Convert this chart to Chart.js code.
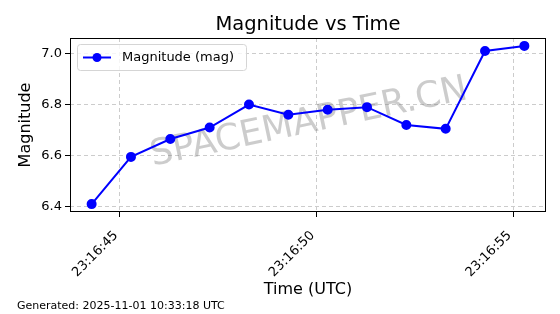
<!DOCTYPE html>
<html>
<head>
<meta charset="utf-8">
<script src="https://cdn.jsdelivr.net/npm/chart.js@4"></script>
<style>
  html, body { margin: 0; padding: 0; background: #fff; }
  #wrap { width: 560px; height: 314px; position: relative; }
</style>
</head>
<body>
<div id="wrap"><canvas id="magChart"></canvas></div>
<script>
// seconds after 23:16:00 UTC
const times = [44.28, 45.28, 46.28, 47.28, 48.28, 49.28, 50.28, 51.28, 52.28, 53.28, 54.28, 55.28];
const magnitudes = [6.41, 6.595, 6.665, 6.71, 6.80, 6.76, 6.78, 6.79, 6.72, 6.705, 7.01, 7.03];
const xTicks = [45, 50, 55];
const yTicks = [6.4, 6.6, 6.8, 7.0];

const font = "'DejaVu Sans', sans-serif";

const extras = {
    id: 'extras',
    beforeDatasetsDraw(chart) {
        // watermark sits under the line
        const c = chart.ctx;
        c.save();
        c.translate(309, 123);
        c.rotate(-12 * Math.PI / 180);
        c.font = '36px ' + font;
        c.fillStyle = 'rgba(128,128,128,0.4)';
        c.textAlign = 'center';
        c.textBaseline = 'middle';
        c.fillText('SPACEMAPPER.CN', 0, 0);
        c.restore();
    },
    afterDraw(chart) {
        const c = chart.ctx;
        const a = chart.chartArea;
        c.save();
        // frame
        c.strokeStyle = '#000';
        c.lineWidth = 1;
        c.strokeRect(a.left + 0.5, a.top + 0.5, a.right - a.left - 1, a.bottom - a.top - 1);

        // title, centred over the plot area
        c.fillStyle = '#000';
        c.font = '19.5px ' + font;
        c.textAlign = 'center';
        c.textBaseline = 'alphabetic';
        c.fillText('Magnitude vs Time', (a.left + a.right) / 2, 30);

        // legend
        c.fillStyle = 'rgba(255,255,255,0.8)';
        c.strokeStyle = '#d5d5d5';
        c.lineWidth = 1;
        c.beginPath();
        c.roundRect(77.5, 44.5, 169, 26, 3);
        c.fill();
        c.stroke();
        c.strokeStyle = '#0000ff';
        c.lineWidth = 2;
        c.beginPath();
        c.moveTo(83, 57.5);
        c.lineTo(111, 57.5);
        c.stroke();
        c.fillStyle = '#0000ff';
        c.beginPath();
        c.arc(97, 57.5, 4.5, 0, Math.PI * 2);
        c.fill();
        c.fillStyle = '#000';
        c.font = '13px ' + font;
        c.textAlign = 'left';
        c.textBaseline = 'middle';
        c.fillText('Magnitude (mag)', 122, 57.5);

        // footer
        c.font = '11px ' + font;
        c.textBaseline = 'alphabetic';
        c.fillText('Generated: 2025-11-01 10:33:18 UTC', 17, 309);
        c.restore();
    }
};

const ctx = document.getElementById('magChart').getContext('2d');
const magChart = new Chart(ctx, {
    type: 'line',
    data: {
        datasets: [{
            label: 'Magnitude (mag)',
            data: times.map((t, i) => ({ x: t, y: magnitudes[i] })),
            borderColor: '#0000ff',
            backgroundColor: '#0000ff',
            borderWidth: 2,
            pointRadius: 4,
            pointHoverRadius: 4,
            tension: 0
        }]
    },
    options: {
        responsive: true,
        maintainAspectRatio: false,
        animation: false,
        layout: { padding: { left: 16, right: 14, top: 38, bottom: 15 } },
        plugins: {
            legend: { display: false },
            tooltip: { enabled: false },
            title: { display: false }
        },
        scales: {
            x: {
                type: 'linear',
                min: 43.73,
                max: 55.83,
                afterBuildTicks(s) { s.ticks = xTicks.map(v => ({ value: v })); },
                afterFit(s) { s.height = 87; },
                ticks: {
                    color: '#000',
                    font: { family: font, size: 13 },
                    maxRotation: 45,
                    minRotation: 45,
                    padding: 11,
                    labelOffset: -4,
                    callback: v => '23:16:' + String(Math.round(v)).padStart(2, '0')
                },
                grid: { color: '#cccccc', tickColor: '#000', tickLength: 5, tickBorderDash: [] },
                border: { display: false, dash: [4, 3] },
                title: {
                    display: true,
                    text: 'Time (UTC)',
                    color: '#000',
                    font: { family: font, size: 16 },
                    padding: { top: 0, bottom: 0 }
                }
            },
            y: {
                min: 6.379,
                max: 7.061,
                afterBuildTicks(s) { s.ticks = yTicks.map(v => ({ value: v })); },
                afterFit(s) { s.width = 54; },
                ticks: {
                    color: '#000',
                    font: { family: font, size: 13 },
                    padding: 3,
                    callback: v => v.toFixed(1)
                },
                grid: { color: '#cccccc', tickColor: '#000', tickLength: 5, tickBorderDash: [] },
                border: { display: false, dash: [4, 3] },
                title: {
                    display: true,
                    text: 'Magnitude',
                    color: '#000',
                    font: { family: font, size: 16 },
                    padding: { top: 0, bottom: 0 }
                }
            }
        }
    },
    plugins: [extras]
});
</script>
</body>
</html>
